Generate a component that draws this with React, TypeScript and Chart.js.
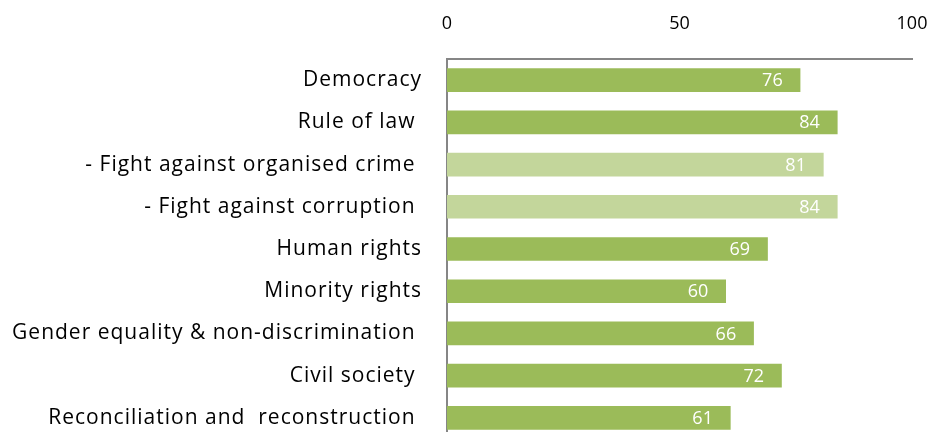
import React, { useEffect, useRef } from "react";
import { Chart, registerables } from "chart.js";

Chart.register(...registerables);

const categories = [
  "Democracy",
  "Rule of law ",
  "- Fight against organised crime ",
  "- Fight against corruption ",
  "Human rights",
  "Minority rights",
  "Gender equality & non-discrimination ",
  "Civil society ",
  "Reconciliation and  reconstruction ",
];
const values = [76, 84, 81, 84, 69, 60, 66, 72, 61];
const subItem = [false, false, true, true, false, false, false, false, false];
const xTicks = [0, 50, 100];

const DARK = "#9BBB59";
const LIGHT = "#C3D69B";
const AXIS = "#868686";
const FONT = "'Open Sans', 'DejaVu Sans', sans-serif";

const valueLabels = {
  id: "valueLabels",
  afterDatasetsDraw(chart: any) {
    const ctx = chart.ctx;
    const meta = chart.getDatasetMeta(0);
    ctx.save();
    ctx.fillStyle = "#FFFFFF";
    ctx.font = `18px ${FONT}`;
    ctx.textAlign = "center";
    ctx.textBaseline = "middle";
    meta.data.forEach((bar: any, i: number) => {
      ctx.fillText(String(values[i]), bar.x - 28, bar.y + 1);
    });
    ctx.restore();
  },
};

const spacedLabels = {
  id: "spacedLabels",
  afterLayout(chart: any) {
    const y = chart.scales.y;
    if (y && !y.__patched) {
      const orig = y.drawLabels;
      y.drawLabels = function (area: any) {
        const ctx = this.ctx;
        ctx.save();
        try {
          (ctx as any).letterSpacing = "1px";
        } catch (e) {}
        orig.call(this, area);
        ctx.restore();
      };
      y.__patched = true;
    }
  },
};

function zeroPadding(scale: any) {
  scale.paddingLeft = 0;
  scale.paddingRight = 0;
  scale.paddingTop = 0;
  scale.paddingBottom = 0;
}

export default function App() {
  const ref = useRef<HTMLCanvasElement>(null);

  useEffect(() => {
    if (!ref.current) return;
    const chart = new Chart(ref.current, {
      type: "bar",
      data: {
        labels: categories,
        datasets: [
          {
            data: values,
            backgroundColor: subItem.map((s) => (s ? LIGHT : DARK)),
            borderWidth: 0,
            barPercentage: 0.56,
            categoryPercentage: 1,
          },
        ],
      },
      options: {
        indexAxis: "y",
        animation: false,
        responsive: false,
        maintainAspectRatio: false,
        layout: { padding: { top: 0, right: 19, bottom: 1, left: 0 } },
        plugins: {
          legend: { display: false },
          tooltip: { enabled: false },
          title: { display: false },
        },
        scales: {
          x: {
            position: "top",
            min: 0,
            max: 100,
            afterBuildTicks(scale: any) {
              scale.ticks = xTicks.map((v) => ({ value: v }));
            },
            afterFit(scale: any) {
              scale.height = 59;
              zeroPadding(scale);
            },
            grid: { display: false, drawTicks: false },
            border: { display: true, color: AXIS, width: 2 },
            ticks: {
              color: "#000000",
              font: { family: FONT, size: 18 },
              padding: 24,
              maxRotation: 0,
            },
          },
          y: {
            afterFit(scale: any) {
              scale.width = 447;
              zeroPadding(scale);
            },
            grid: { display: false, drawTicks: false },
            border: { display: true, color: AXIS, width: 2 },
            ticks: {
              color: "#000000",
              font: { family: FONT, size: 21 },
              padding: 25,
              autoSkip: false,
            },
          },
        },
      },
      plugins: [valueLabels, spacedLabels],
    });
    return () => chart.destroy();
  }, []);

  return (
    <div
      style={{
        position: "fixed",
        left: 0,
        top: 0,
        width: 931,
        height: 432,
        overflow: "hidden",
        background: "#FFFFFF",
      }}
    >
      <canvas
        ref={ref}
        width={931}
        height={440}
        style={{ width: 931, height: 440, display: "block" }}
      />
    </div>
  );
}
